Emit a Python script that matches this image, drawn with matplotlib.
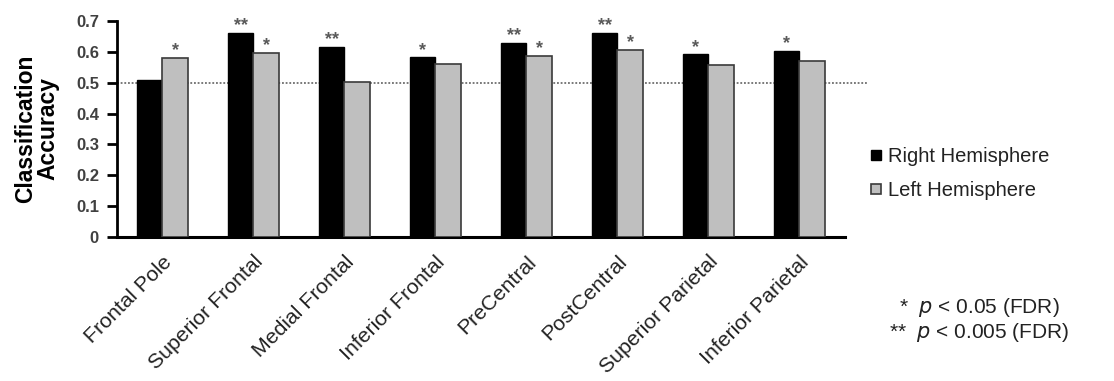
import matplotlib
matplotlib.use("Agg")
import matplotlib.pyplot as plt
from matplotlib.lines import Line2D
import numpy as np

plt.rcParams['font.family'] = ['Liberation Sans', 'DejaVu Sans']

regions = ['Frontal Pole', 'Superior Frontal', 'Medial Frontal', 'Inferior Frontal',
           'PreCentral', 'PostCentral', 'Superior Parietal', 'Inferior Parietal']
right_acc = [0.508, 0.662, 0.616, 0.582, 0.628, 0.662, 0.592, 0.602]
left_acc = [0.581, 0.597, 0.502, 0.562, 0.587, 0.606, 0.556, 0.570]
right_sig = ['', '**', '**', '*', '**', '**', '*', '*']
left_sig = ['*', '*', '', '', '*', '*', '', '']
chance = 0.5
yticks = [0, 0.1, 0.2, 0.3, 0.4, 0.5, 0.6, 0.7]
ytick_labels = ['0', '0.1', '0.2', '0.3', '0.4', '0.5', '0.6', '0.7']

fig = plt.figure(figsize=(11.14, 3.81), dpi=100)
ax = fig.add_axes([0.105, 0.378, 0.6535, 0.567])

x = np.arange(len(regions))
w = 0.28
b1 = ax.bar(x - w/2, right_acc, w, color='black', edgecolor='black', linewidth=1, zorder=3)
b2 = ax.bar(x + w/2, left_acc, w, color='#bfbfbf', edgecolor='#3a3a3a', linewidth=1.2, zorder=3)

# significance stars above bars
for bars, sig in ((b1, right_sig), (b2, left_sig)):
    for rect, s in zip(bars, sig):
        if s:
            ax.annotate(s, (rect.get_x() + rect.get_width()/2, rect.get_height()),
                        xytext=(0, -1), textcoords='offset points', ha='center', va='bottom',
                        fontsize=13, color='#5a5a5a', fontweight='bold')

# chance level line
ax.plot([0, 1.03], [chance, chance], transform=ax.get_yaxis_transform(), clip_on=False,
        color='#555555', linestyle=(0, (1.2, 1.2)), linewidth=1.1, zorder=2)

ax.set_xlim(-0.5, len(regions) - 0.5)
ax.set_ylim(0, 0.7)
ax.set_yticks(yticks)
ax.set_yticklabels(ytick_labels, fontsize=12, fontweight='bold', color='#404040')
ax.set_xticks(x)
ax.set_xticklabels(regions, rotation=45, ha='right', va='top', rotation_mode='anchor',
                   fontsize=15.3, color='#222222')
ax.tick_params(axis='x', length=0, pad=11)
ax.tick_params(axis='y', length=7, width=2, direction='out', pad=6, colors='black')
for lbl in ax.get_yticklabels():
    lbl.set_color('#404040')
for s in ('top', 'right'):
    ax.spines[s].set_visible(False)
ax.spines['left'].set_linewidth(2)
ax.spines['bottom'].set_linewidth(2.2)
ax.set_ylabel('Classification\nAccuracy', fontsize=16.5, fontweight='bold', labelpad=12,
              linespacing=0.95)

handles = [Line2D([], [], marker='s', linestyle='none', markersize=7,
                  markerfacecolor='black', markeredgecolor='black'),
           Line2D([], [], marker='s', linestyle='none', markersize=7,
                  markerfacecolor='#bfbfbf', markeredgecolor='#3a3a3a', markeredgewidth=1.2)]
fig.legend(handles, ['Right Hemisphere', 'Left Hemisphere'], loc='center left',
           bbox_to_anchor=(0.763, 0.545), frameon=False, fontsize=14.5, labelspacing=0.75,
           handletextpad=0.2, handlelength=0.8, labelcolor='#222222')

fig.text(0.807, 0.192, r'*  $\it{p}$ < 0.05 (FDR)', fontsize=15, color='#222222', va='center')
fig.text(0.798, 0.126, r'**  $\it{p}$ < 0.005 (FDR)', fontsize=15, color='#222222', va='center')

fig.savefig('out.png', dpi=100)
